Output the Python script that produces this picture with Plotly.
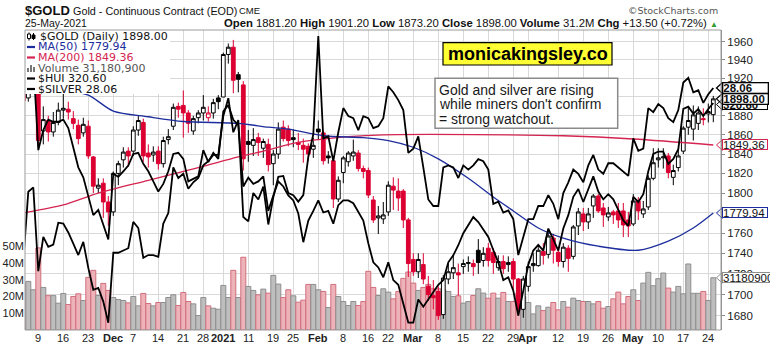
import math
import pandas as pd
import plotly.graph_objects as go

# ---------------------------------------------------------------- calendar --
closed_days = ["2020-11-26", "2020-12-25", "2021-01-01", "2021-01-18",
               "2021-02-15", "2021-04-02"]
session_days = [d.strftime("%Y-%m-%d") for d in pd.bdate_range("2020-11-04", "2021-05-25")
                if d.strftime("%Y-%m-%d") not in closed_days]
n = len(session_days)
slot = {d: i for i, d in enumerate(session_days)}
xs = list(range(n))

# ------------------------------------------------------------ $GOLD daily --
gold_open = [1910, 1899, 1946,
    1953, 1864, 1875, 1863, 1873, 1886, 1887, 1877, 1870, 1862,
    1869, 1837, 1805, 1810, 1791, 1781, 1820, 1834, 1843, 1843,
    1865, 1873, 1841, 1839, 1843, 1830, 1855, 1869, 1890, 1891,
    1883, 1864, 1878, 1883, 1878, 1883, 1899, 1900, 1946, 1954,
    1924, 1913, 1853, 1849, 1857, 1846, 1850, 1830, 1840, 1868,
    1866, 1857, 1852, 1849, 1848, 1845, 1866, 1862, 1838, 1833,
    1794, 1821, 1832, 1838, 1841, 1825, 1823, 1793, 1775, 1774,
    1781, 1807, 1802, 1802, 1773, 1734, 1722, 1729, 1708, 1699,
    1703, 1681, 1715, 1721, 1721, 1727, 1730, 1730, 1743, 1733,
    1745, 1741, 1726, 1732, 1729, 1732, 1715, 1686, 1708, 1728,
    1728, 1742, 1739, 1755, 1741, 1732, 1745, 1737, 1767, 1779,
    1771, 1787, 1797, 1785, 1776, 1781, 1782, 1782, 1773, 1769,
    1792, 1779, 1786, 1815, 1834, 1836, 1838, 1816, 1826, 1843,
    1868, 1866, 1872, 1877, 1882, 1881.2]
gold_high = [1915, 1951, 1966,
    1965, 1890, 1880, 1884, 1894, 1905, 1895, 1885, 1876, 1878,
    1875, 1838, 1815, 1815, 1797, 1822, 1833, 1847, 1847, 1869,
    1880, 1877, 1850, 1848, 1848, 1858, 1866, 1893, 1894, 1907,
    1886, 1880, 1886, 1902, 1890, 1898, 1902, 1948, 1958, 1962,
    1927, 1917, 1865, 1867, 1862, 1856, 1856, 1844, 1873, 1875,
    1870, 1866, 1862, 1856, 1851, 1857, 1875, 1864, 1843, 1838,
    1817, 1838, 1843, 1855, 1844, 1828, 1826, 1797, 1787, 1791,
    1812, 1816, 1815, 1804, 1775, 1740, 1740, 1740, 1718, 1714,
    1708, 1719, 1730, 1739, 1730, 1734, 1737, 1734, 1754, 1746,
    1750, 1745, 1738, 1738, 1737, 1735, 1716, 1718, 1732, 1740,
    1746, 1750, 1760, 1759, 1746, 1750, 1748, 1768, 1785, 1785,
    1785, 1799, 1799, 1790, 1786, 1783, 1790, 1790, 1781, 1799,
    1796, 1792, 1818, 1846, 1846, 1846, 1841, 1829, 1845, 1869,
    1889, 1891, 1890, 1888, 1893, 1901.2]
gold_low = [1876, 1895, 1934,
    1848, 1850, 1853, 1858, 1870, 1877, 1876, 1866, 1850, 1858,
    1835, 1800, 1800, 1775, 1767, 1777, 1808, 1826, 1827, 1838,
    1859, 1832, 1826, 1832, 1824, 1826, 1850, 1865, 1878, 1857,
    1862, 1860, 1872, 1875, 1874, 1877, 1887, 1900, 1936, 1904,
    1905, 1823, 1832, 1838, 1838, 1836, 1822, 1808, 1835, 1853,
    1848, 1847, 1844, 1831, 1833, 1836, 1855, 1829, 1830, 1785,
    1791, 1810, 1827, 1833, 1822, 1815, 1795, 1770, 1759, 1769,
    1777, 1783, 1782, 1765, 1717, 1718, 1716, 1710, 1694, 1686,
    1676, 1677, 1710, 1715, 1699, 1720, 1722, 1718, 1720, 1727,
    1727, 1720, 1723, 1720, 1722, 1705, 1680, 1678, 1703, 1722,
    1727, 1729, 1735, 1730, 1727, 1726, 1722, 1734, 1758, 1762,
    1764, 1775, 1780, 1766, 1772, 1769, 1765, 1756, 1756, 1767,
    1773, 1775, 1783, 1813, 1826, 1825, 1815, 1808, 1822, 1840,
    1860, 1854, 1865, 1870, 1873, 1873.2]
gold_close = [1896, 1946, 1951,
    1854, 1876, 1863, 1873, 1886, 1888, 1884, 1872, 1856, 1871,
    1838, 1807, 1808, 1791, 1781, 1820, 1830, 1842, 1838, 1865,
    1875, 1838, 1837, 1842, 1830, 1854, 1858, 1889, 1887, 1883,
    1872, 1877, 1883, 1889, 1883, 1894, 1895, 1946, 1954, 1918,
    1919, 1835, 1850, 1855, 1852, 1853, 1829, 1840, 1866, 1856,
    1854, 1855, 1850, 1845, 1840, 1849, 1863, 1833, 1836, 1794,
    1813, 1836, 1841, 1842, 1825, 1822, 1798, 1773, 1777, 1778,
    1808, 1803, 1795, 1773, 1730, 1722, 1734, 1715, 1700, 1697,
    1680, 1716, 1722, 1726, 1719, 1730, 1731, 1727, 1731, 1740,
    1733, 1731, 1732, 1725, 1731, 1715, 1686, 1715, 1727, 1730,
    1743, 1738, 1757, 1743, 1732, 1746, 1735, 1766, 1781, 1771,
    1779, 1797, 1782, 1778, 1780, 1778, 1773, 1768, 1767, 1792,
    1782, 1784, 1815, 1831, 1836, 1837, 1821, 1823, 1838, 1867,
    1875, 1881, 1883, 1876, 1884.5, 1898.0]
prior_close = 1910.0          # settlement of 2020-11-03

# volume, millions of contracts
volume_m = [28, 29, 24,
    49, 25.4, 20.5, 20.5, 16, 21.8, 15.2, 20, 21.6, 17.6,
    31.4, 35.6, 20.6, 27.8, 23.6, 19.4, 18.2, 17.6, 16.2, 20,
    14.4, 21.8, 15.8, 14.4, 16.4, 16.4, 19.4, 21, 14.6, 22.4,
    17, 15.6, 8.6, 19.4, 14.4, 13, 12.4, 26.6, 19.4, 35.6,
    19.4, 43.4, 26, 23.6, 21, 24.4, 22, 32.6, 27.4, 19.4,
    24, 20.4, 16.6, 17.8, 27.2, 27.2, 24, 23, 13.4, 27.2,
    20, 17, 14.6, 17, 14.6, 17, 35, 25.4, 20.6, 24.6,
    22.6, 18.6, 23, 30.8, 34.6, 28, 23.6, 25.4, 27.2, 24.6,
    24.6, 24, 23, 20, 20.4, 16, 17, 20.6, 24.6, 22,
    19, 22, 19, 22.4, 17, 17, 21.9, 20, 16.4, 9.6,
    14.4, 11.6, 13.6, 16.4, 12, 17, 13.6, 19, 17.6, 17,
    17, 15.6, 17, 13, 14, 18.6, 22.6, 15.6, 20, 24,
    17.6, 28, 34.4, 26.4, 30.6, 34, 25, 22.6, 26, 21.6,
    39.4, 21.9, 21.9, 23, 17.6, 31.1809]

# ------------------------------------------------------------- overlays --
silver_close = [23.97, 25.53, 25.63,
    23.75, 24.50, 24.28, 24.33, 24.82, 24.80, 24.60, 24.35, 24.10, 24.39,
    23.82, 23.35, 23.39, 23.10, 22.66, 24.15, 24.15, 24.20, 24.25, 24.84,
    24.70, 24.04, 24.10, 24.10, 24.06, 24.80, 25.04, 26.10, 25.85, 25.95,
    25.60, 25.75, 25.85, 26.15, 26.25, 26.40, 26.40, 27.35, 27.80, 26.95,
    27.25, 24.95, 24.85, 25.50, 25.35, 25.65, 24.78, 25.40, 25.88, 25.90,
    25.50, 25.45, 25.30, 25.45, 26.35, 26.90, 29.42, 26.80, 26.85, 26.25,
    26.95, 27.55, 27.35, 27.30, 27.00, 27.35, 27.30, 27.05, 27.10, 27.30,
    28.10, 27.95, 27.75, 27.50, 26.45, 26.55, 26.85, 26.10, 25.35, 25.20,
    25.20, 26.10, 26.15, 26.10, 25.85, 26.15, 26.05, 26.15, 26.30, 26.25,
    26.05, 25.25, 25.30, 25.05, 25.10, 24.90, 24.10, 24.50, 24.90, 24.90,
    25.20, 25.20, 25.45, 25.25, 24.90, 25.50, 25.75, 26.05, 25.95, 25.75,
    26.15, 26.40, 26.05, 25.95, 26.20, 26.20, 26.10, 26.00, 25.90, 26.80,
    26.50, 26.55, 27.55, 27.45, 27.65, 27.55, 27.30, 27.20, 27.50, 28.20,
    28.32, 27.95, 28.00, 27.68, 27.90, 28.06]
hui_close = [335, 345, 340,
    300.6, 309, 313.4, 312.5, 312.5, 313.4, 309.8, 301.7, 293.6, 289.6,
    282, 275, 277, 271.5, 266, 291, 289.8, 292, 294.3, 299,
    299.5, 295, 292, 288, 284, 287, 292, 299, 299.5, 297,
    288, 289, 290, 300.6, 295.7, 299.5, 297, 317, 319.7, 313.3,
    311, 286, 289.5, 287, 288, 290, 276.6, 282.5, 288, 286,
    282.5, 280.6, 275.6, 265, 273, 276.6, 280.6, 276, 276.6, 271.8,
    278.8, 280.6, 280.6, 279.5, 276, 273, 264.6, 257.8, 256, 252.6,
    257.8, 251.6, 250, 243.3, 237.4, 237.4, 245, 242.6, 245, 247.4,
    250, 251.6, 257.8, 260.3, 263.9, 268.3, 271.3, 274.3, 272.4, 269.5,
    266.9, 262.2, 257.8, 251.6, 252.6, 248, 239.7, 248, 257, 262,
    264, 262, 270, 266, 262, 270, 275, 282, 285, 280,
    285, 290, 284, 281, 283, 281, 277, 273, 271, 282,
    280, 283, 292, 299, 300, 300, 295, 297, 301, 318,
    319, 316, 318, 315, 318, 320.6]

ma50_dates = ["2020-11-04", "2020-11-16", "2020-11-23", "2020-12-01", "2020-12-10",
              "2020-12-21", "2021-01-07", "2021-01-15", "2021-01-22", "2021-02-02",
              "2021-02-12", "2021-02-22", "2021-03-01", "2021-03-08", "2021-03-16",
              "2021-03-23", "2021-03-29", "2021-04-06", "2021-04-13", "2021-04-22",
              "2021-05-04", "2021-05-12", "2021-05-19", "2021-05-25"]
ma50_values = [1915, 1908, 1902, 1885, 1879, 1874, 1872, 1868, 1866, 1859,
               1857, 1854, 1847, 1835, 1815, 1796, 1782, 1765, 1755, 1747,
               1743, 1752, 1765, 1779.94]
ma200_dates = ["2020-11-04", "2020-11-16", "2020-11-25", "2020-12-10", "2020-12-24",
               "2021-01-07", "2021-01-14", "2021-01-26", "2021-02-09", "2021-02-19",
               "2021-03-26", "2021-04-13", "2021-05-03", "2021-05-25"]
ma200_values = [1780, 1788, 1800, 1813, 1826, 1837, 1843, 1852, 1858, 1860,
                1860, 1859, 1855.6, 1849.36]

axis_tick_dates = ["2020-11-09", "2020-11-16", "2020-11-23", "2020-12-01", "2020-12-07",
                   "2020-12-14", "2020-12-21", "2020-12-28", "2021-01-04", "2021-01-11",
                   "2021-01-19", "2021-01-25", "2021-02-01", "2021-02-08", "2021-02-16",
                   "2021-02-22", "2021-03-01", "2021-03-08", "2021-03-15", "2021-03-22",
                   "2021-03-29", "2021-04-01", "2021-04-12", "2021-04-19", "2021-04-26",
                   "2021-05-03", "2021-05-10", "2021-05-17", "2021-05-24"]
axis_tick_text = ["9", "16", "23", "<b>Dec</b>", "7", "14", "21", "28", "<b>2021</b>", "11",
                  "19", "25", "<b>Feb</b>", "8", "16", "22", "<b>Mar</b>", "8", "15", "22",
                  "29", "<b>Apr</b>", "12", "19", "26", "<b>May</b>", "10", "17", "24"]
price_ticks = list(range(1680, 1961, 20))
volume_ticks = [10, 20, 30, 40, 50]

for series in (gold_open, gold_high, gold_low, gold_close, volume_m, silver_close, hui_close):
    assert len(series) == n, len(series)

# ------------------------------------------------------------- geometry --
FIG_W, FIG_H = 770, 346
PL, PR, PT, PB = 25, 721, 30, 330
X_RANGE = (0.34, 139.54)
GOLD_RANGE = (1666.5, 1973.0)
HUI_RANGE = (235.0, 354.3)
SILVER_RANGE = (22.51, 29.58)
VOL_RANGE = (0, 179)

RED = "#dc0032"
BLACK = "#000000"
NAVY = "#1d2d9d"
CRIMSON = "#d42450"
GRID = "#d9d9d9"
ARIAL = "Liberation Sans, Arial, sans-serif"
VERDANA = "DejaVu Sans, Verdana, sans-serif"


def fx(px):
    return (px - PL) / (PR - PL)


def fy(py):
    return (PB - py) / (PB - PT)


def log_px(v, lo, hi):
    return PB - (PB - PT) * (math.log10(v) - math.log10(lo)) / (math.log10(hi) - math.log10(lo))


fig = go.Figure()

# volume histogram (base axis, drawn first so price sits on top)
prev_close = [prior_close] + gold_close[:-1]
down = [c < p for c, p in zip(gold_close, prev_close)]
fig.add_trace(go.Bar(
    x=xs, y=volume_m, yaxis="y", width=1.0,
    marker=dict(color=["#eeb2b9" if d else "#bebebe" for d in down],
                line=dict(color=["#d06e7d" if d else "#8e8e8e" for d in down], width=1)),
    hoverinfo="skip", showlegend=False))

# candles: black when close >= prior close, red otherwise; hollow when close > open
for colour, want_down in ((BLACK, False), (RED, True)):
    ids = [i for i in range(n) if down[i] == want_down]
    fig.add_trace(go.Candlestick(
        x=[xs[i] for i in ids],
        open=[gold_open[i] for i in ids], high=[gold_high[i] for i in ids],
        low=[gold_low[i] for i in ids], close=[gold_close[i] for i in ids],
        yaxis="y2", whiskerwidth=0,
        increasing=dict(line=dict(color=colour, width=1), fillcolor="white"),
        decreasing=dict(line=dict(color=colour, width=1), fillcolor=colour),
        hoverinfo="skip", showlegend=False))

fig.add_trace(go.Scatter(x=[slot[d] for d in ma200_dates], y=ma200_values, yaxis="y2",
                         mode="lines", line=dict(color=CRIMSON, width=1.3, shape="spline", smoothing=0.8),
                         hoverinfo="skip", showlegend=False))
fig.add_trace(go.Scatter(x=[slot[d] for d in ma50_dates], y=ma50_values, yaxis="y2",
                         mode="lines", line=dict(color=NAVY, width=1.3, shape="spline", smoothing=0.8),
                         hoverinfo="skip", showlegend=False))
fig.add_trace(go.Scatter(x=xs, y=hui_close, yaxis="y3", mode="lines",
                         line=dict(color=BLACK, width=1.8), hoverinfo="skip", showlegend=False))
fig.add_trace(go.Scatter(x=xs, y=silver_close, yaxis="y4", mode="lines",
                         line=dict(color=BLACK, width=1.8), hoverinfo="skip", showlegend=False))

shapes = []
annotations = []


def note(px, py, text, size, family=ARIAL, color="#111", xanchor="left", **kw):
    annotations.append(dict(x=fx(px), y=fy(py), xref="paper", yref="paper", text=text,
                            showarrow=False, xanchor=xanchor, yanchor="middle",
                            font=dict(family=family, size=size, color=color), **kw))


# ---- date labels under the panel ----
for d, label in zip(axis_tick_dates, axis_tick_text):
    annotations.append(dict(x=slot[d], y=fy(338), xref="x", yref="paper", text=label,
                            showarrow=False, xanchor="center", yanchor="middle",
                            font=dict(family=ARIAL, size=11, color="#222")))

# ---- header ----
last_o, last_h, last_l, last_c = gold_open[-1], gold_high[-1], gold_low[-1], gold_close[-1]
chg = last_c - gold_close[-2]
note(23, 10, "<b>$GOLD</b>", 13)
note(71, 10.5, "Gold - Continuous Contract (EOD)", 10.8)
note(237, 10.5, "CME", 9.5)
note(23, 23.5, "25-May-2021", 10.5)
note(720, 23.5,
     f"<b>Open</b> {last_o:.2f} <b>High</b> {last_h:.2f} <b>Low</b> {last_l:.2f} "
     f"<b>Close</b> {last_c:.2f} <b>Volume</b> {volume_m[-1]:.1f}M "
     f"<b>Chg</b> {chg:+.2f} ({chg / gold_close[-2] * 100:+.2f}%) "
     "<span style='color:#2c9a2c;font-size:8px'>▲</span>",
     11.3, xanchor="right")
note(720, 10, "©StockCharts.com", 9.5, family=VERDANA, color="#555", xanchor="right")

# ---- legend block (top-left inside the panel) ----
shapes.append(dict(type="rect", xref="paper", yref="paper", x0=fx(PL), x1=fx(170),
                   y0=fy(94), y1=fy(PT), fillcolor="white", line=dict(width=0), layer="above"))
rows = [36.5, 47.0, 57.5, 68.0, 78.5, 89.0]
# candle glyph
shapes.append(dict(type="line", xref="paper", yref="paper", x0=fx(29), x1=fx(29),
                   y0=fy(32.5), y1=fy(40.5), line=dict(color=BLACK, width=1), layer="above"))
shapes.append(dict(type="rect", xref="paper", yref="paper", x0=fx(27.5), x1=fx(30.5),
                   y0=fy(34), y1=fy(38.5), fillcolor="white", line=dict(color=BLACK, width=1), layer="above"))
shapes.append(dict(type="line", xref="paper", yref="paper", x0=fx(33.5), x1=fx(33.5),
                   y0=fy(33), y1=fy(40), line=dict(color=BLACK, width=1), layer="above"))
shapes.append(dict(type="rect", xref="paper", yref="paper", x0=fx(32), x1=fx(35),
                   y0=fy(35), y1=fy(38.5), fillcolor=BLACK, line=dict(color=BLACK, width=1), layer="above"))
for ry, colour in ((rows[1], NAVY), (rows[2], CRIMSON), (rows[4], BLACK), (rows[5], BLACK)):
    shapes.append(dict(type="line", xref="paper", yref="paper", x0=fx(27), x1=fx(35),
                       y0=fy(ry), y1=fy(ry), line=dict(color=colour, width=2.2), layer="above"))
for bx, bh in ((28, 4), (31, 7), (34, 5)):
    shapes.append(dict(type="rect", xref="paper", yref="paper", x0=fx(bx - 1), x1=fx(bx + 1),
                       y0=fy(rows[3] + 4), y1=fy(rows[3] + 4 - bh), fillcolor="#777",
                       line=dict(width=0), layer="above"))
note(38, rows[0], f"$GOLD (Daily) {last_c:.2f}", 11, family=VERDANA, color="#111")
note(36, rows[1], f"MA(50) {ma50_values[-1]:.2f}", 11, family=VERDANA, color=NAVY)
note(36, rows[2], f"MA(200) {ma200_values[-1]:.2f}", 11, family=VERDANA, color=CRIMSON)
note(36, rows[3], f"Volume {round(volume_m[-1] * 1e6):,}", 11, family=VERDANA, color="#555")
note(36, rows[4], f"$HUI {hui_close[-1]:.2f}", 11, family=VERDANA, color="#111")
note(36, rows[5], f"$SILVER {silver_close[-1]:.2f}", 11, family=VERDANA, color="#111")

# ---- call-out boxes ----
shapes.append(dict(type="rect", xref="paper", yref="paper", x0=fx(443), x1=fx(612),
                   y0=fy(65), y1=fy(42.7), fillcolor="#ffff33",
                   line=dict(color=BLACK, width=1.2), layer="above"))
note(527.5, 54.2, "<b>monicakingsley.co</b>", 18, color=BLACK, xanchor="center")
shapes.append(dict(type="rect", xref="paper", yref="paper", x0=fx(435), x1=fx(617.7),
                   y0=fy(128.3), y1=fy(78.3), fillcolor="white",
                   line=dict(color="#8a8a8a", width=1.5), layer="above"))
for ry, line_text in zip((89.5, 104, 118.5), ("Gold and silver are rising",
                                              "while miners don't confirm",
                                              "= strong watchout.")):
    note(437, ry, line_text, 14, color="#1a1a1a")

# ---- last-value tags on the price scale ----
def value_tag(ypx, text, border, bold, lw=1.0, width=44):
    h = 5.5
    shapes.append(dict(type="path", xref="paper", yref="paper",
                       path=(f"M {fx(722.5):.5f},{fy(ypx - h):.5f} L {fx(716.5):.5f},{fy(ypx):.5f} "
                             f"L {fx(722.5):.5f},{fy(ypx + h):.5f}"),
                       line=dict(color=border, width=lw), layer="above"))
    annotations.append(dict(x=fx(722), y=fy(ypx), xref="paper", yref="paper",
                            text=f"<b>{text}</b>" if bold else text, showarrow=False,
                            xanchor="left", yanchor="middle", align="left",
                            width=width, height=9, borderpad=0, borderwidth=lw,
                            bordercolor=border, bgcolor="white",
                            font=dict(family=ARIAL, size=11.5, color="#111")))


value_tag(log_px(hui_close[-1], *HUI_RANGE) + 1.5, f"{hui_close[-1]:.2f}", BLACK, True)
value_tag(log_px(silver_close[-1], *SILVER_RANGE), f"{silver_close[-1]:.2f}", BLACK, True, 1.3)
value_tag(log_px(last_c, *GOLD_RANGE), f"{last_c:.2f}", BLACK, True, 1.3)
value_tag(log_px(ma200_values[-1], *GOLD_RANGE), f"{ma200_values[-1]:.2f}", CRIMSON, False)
value_tag(log_px(ma50_values[-1], *GOLD_RANGE), f"{ma50_values[-1]:.2f}", NAVY, False)
value_tag(PB - (PB - PT) * volume_m[-1] / VOL_RANGE[1], f"{round(volume_m[-1] * 1e6)}", "#8e8e8e", False,
          width=60)

# panel frame
shapes.append(dict(type="rect", xref="paper", yref="paper", x0=0, x1=1, y0=0, y1=1,
                   line=dict(color="#9c9c9c", width=1), layer="above"))

fig.update_layout(
    width=FIG_W, height=FIG_H, autosize=False,
    margin=dict(l=PL, r=FIG_W - PR, t=PT, b=FIG_H - PB, autoexpand=False),
    paper_bgcolor="white", plot_bgcolor="white",
    showlegend=False, hovermode=False, bargap=0, boxgap=0.25, boxgroupgap=0,
    xaxis=dict(range=list(X_RANGE), tickmode="array", automargin=False,
               tickvals=[slot[d] for d in axis_tick_dates], showticklabels=False,
               showgrid=True, gridcolor=GRID, gridwidth=1, zeroline=False, showline=False,
               ticks="", rangeslider=dict(visible=False), fixedrange=True),
    yaxis=dict(range=list(VOL_RANGE), tickmode="array", tickvals=volume_ticks, automargin=False,
               ticktext=[f"{v}M" for v in volume_ticks], showgrid=False, zeroline=False,
               ticks="", tickfont=dict(family=ARIAL, size=11, color="#222"), fixedrange=True),
    yaxis2=dict(overlaying="y", side="right", type="log", automargin=False,
                range=[math.log10(GOLD_RANGE[0]), math.log10(GOLD_RANGE[1])],
                tickmode="array", tickvals=price_ticks, ticktext=[str(t) for t in price_ticks],
                showgrid=True, gridcolor=GRID, gridwidth=1, zeroline=False,
                showline=True, linecolor="#8c8c8c", ticks="outside", ticklen=3, tickcolor="#8c8c8c",
                tickfont=dict(family=ARIAL, size=11.5, color="#222"), fixedrange=True),
    yaxis3=dict(overlaying="y", type="log", visible=False, automargin=False,
                range=[math.log10(HUI_RANGE[0]), math.log10(HUI_RANGE[1])], fixedrange=True),
    yaxis4=dict(overlaying="y", type="log", visible=False, automargin=False,
                range=[math.log10(SILVER_RANGE[0]), math.log10(SILVER_RANGE[1])], fixedrange=True),
    shapes=shapes, annotations=annotations,
)

fig.write_html("out.html", config={"displayModeBar": False, "staticPlot": True})
